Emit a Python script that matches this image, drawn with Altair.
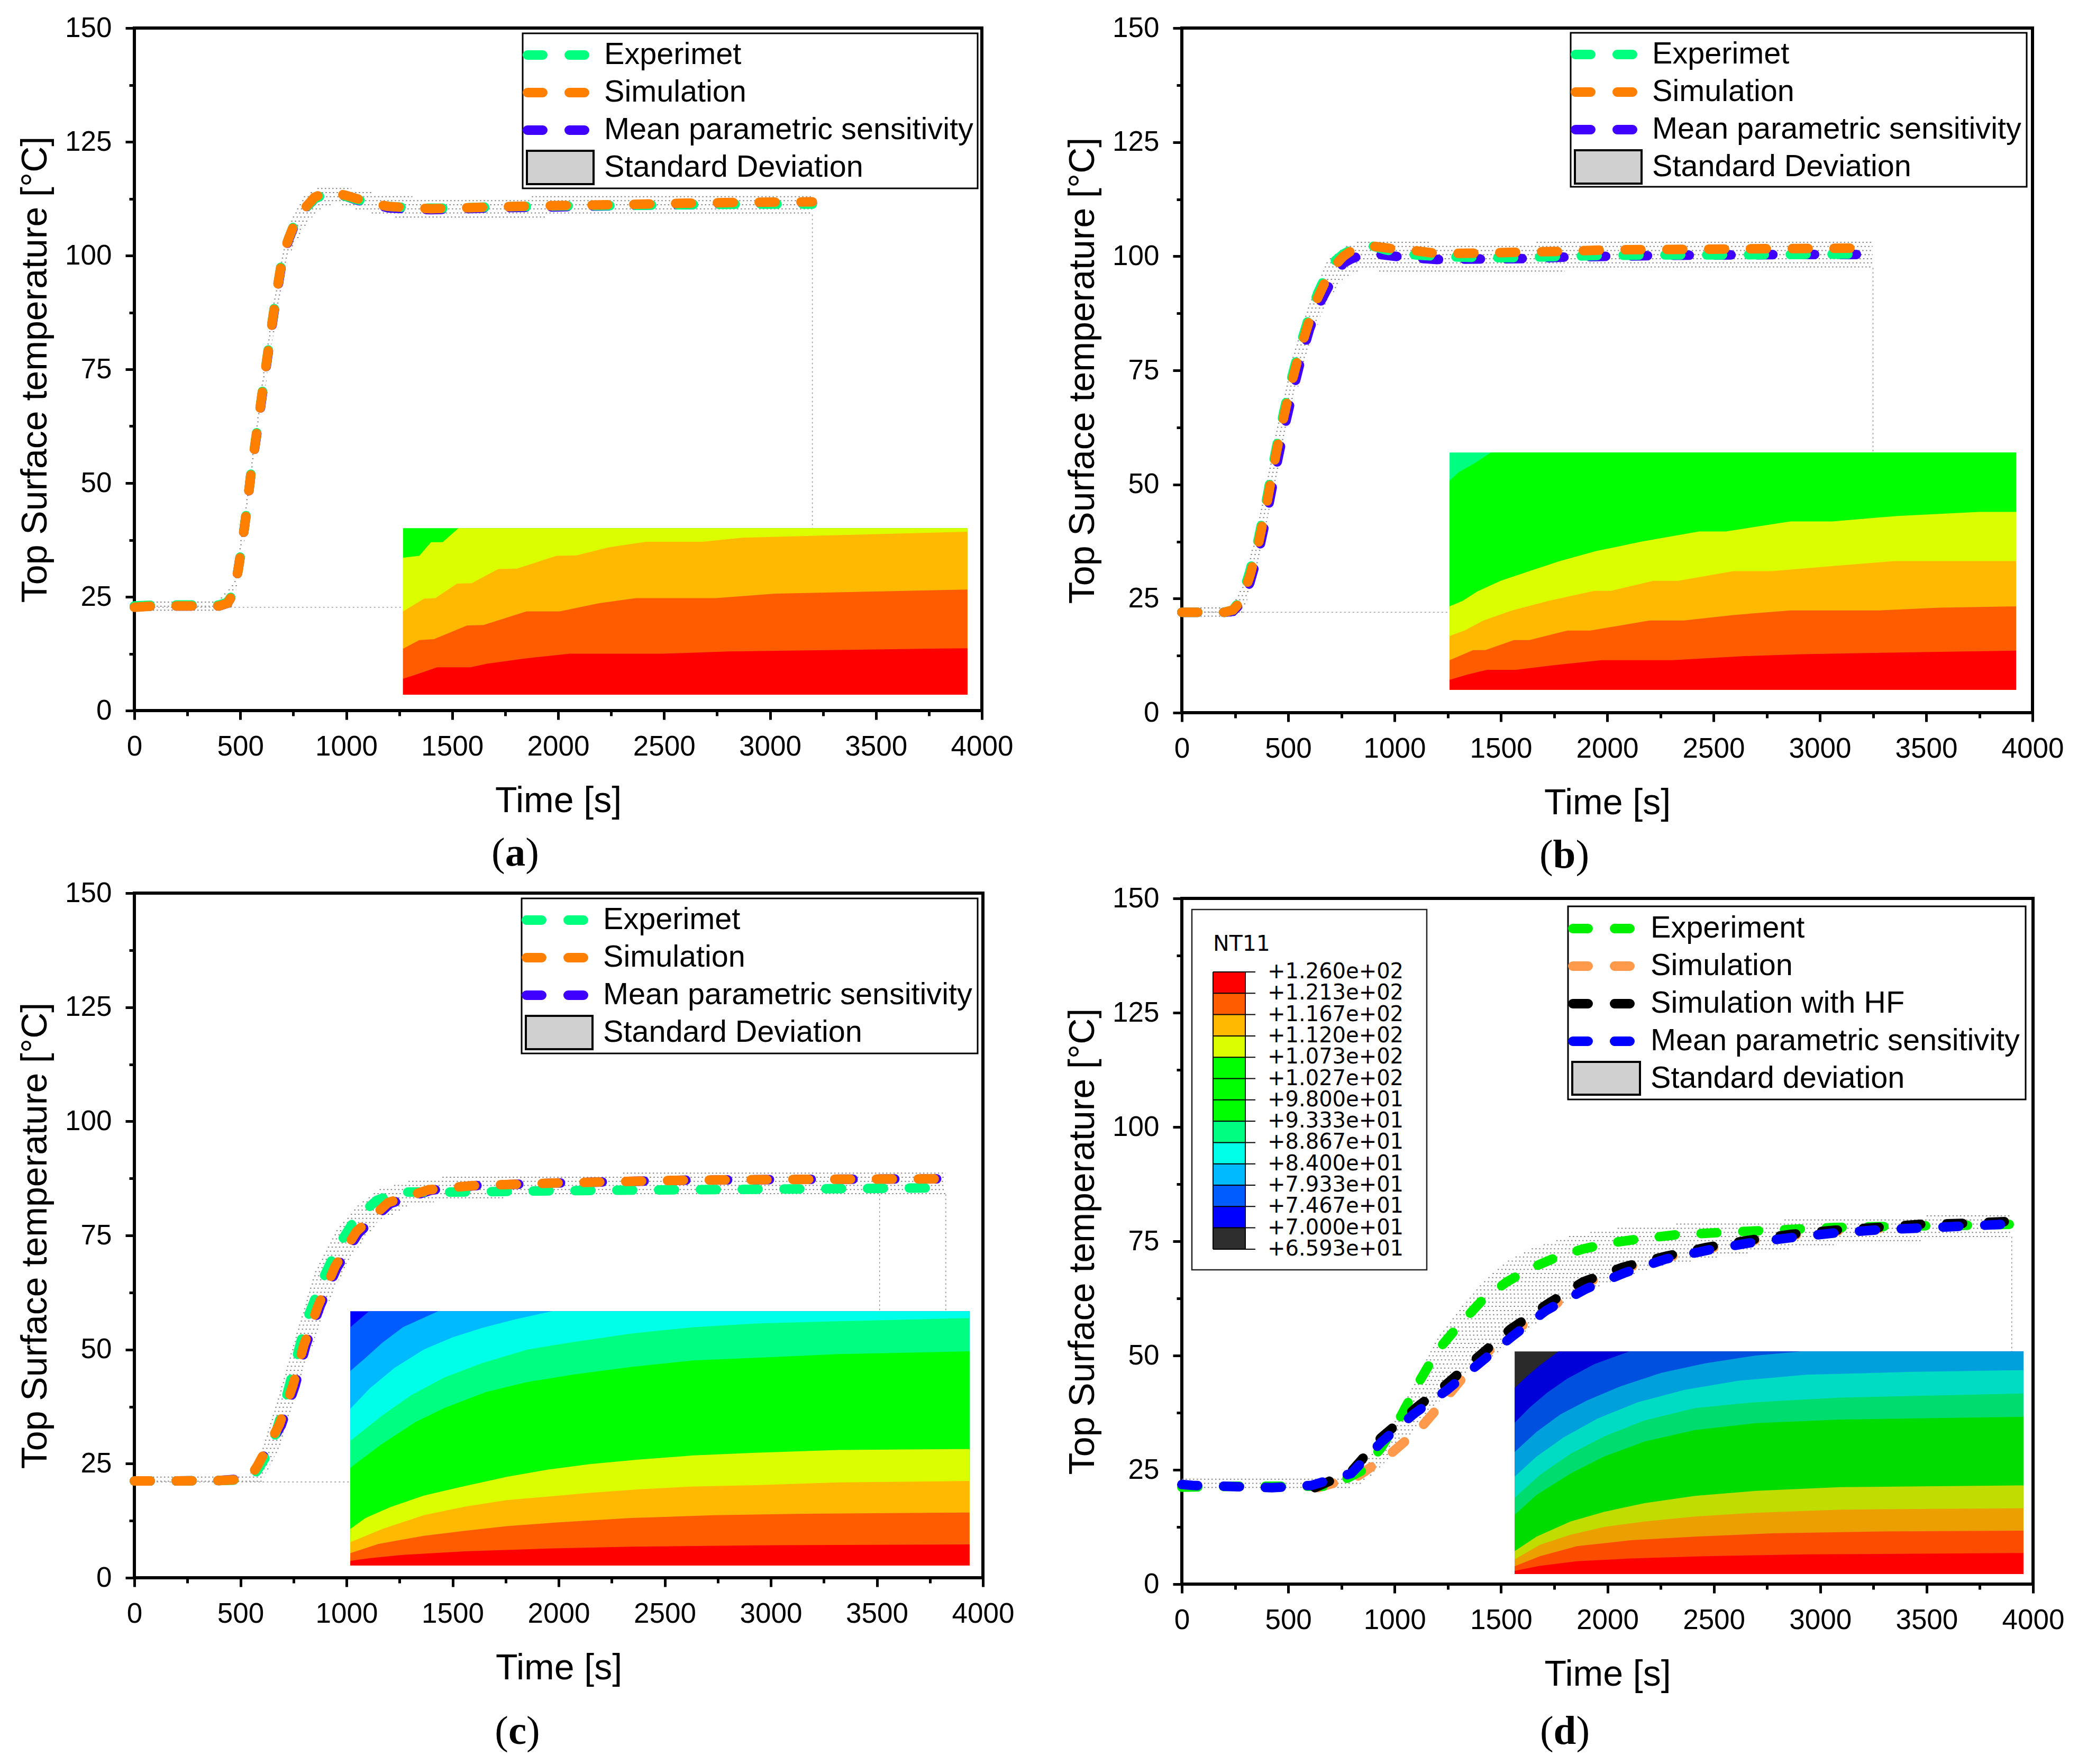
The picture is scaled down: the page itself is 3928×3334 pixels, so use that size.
import altair as alt
import numpy as np
import pandas as pd

FONT = "Liberation Sans"
XT = [i * 250 for i in range(17)]
YT = [i * 12.5 for i in range(13)]
GREEN, YELL, ORNG, DKOR, RED = "#00ff00", "#dcff00", "#ffb900", "#ff5c00", "#ff0000"

# ---------- panel a ----------
a_x = [0,100,200,300,400,440,470,490,510,530,550,580,610,640,670,700,730,760,800,850,900,950,1000,1050,1100,1150,1200,1300,1400,1500,1700,2000,2300,2600,2900,3200]
a_exp = [23,23.2,23.2,23.2,23.2,23.8,26,31,37,44,52,62,72,82,91.5,100,104,107.5,110,112.5,113.5,113.6,113,112.3,111.8,111.2,110.8,110.5,110.4,110.4,110.7,110.9,111,111.2,111.3,111.3]
a_sim = [22.7,23,23,23,23,23.6,26,31,37,44,52,62,72,82,91.5,100,104,107.5,110.2,112.8,113.8,113.7,113.2,112.5,111.8,111.2,110.8,110.5,110.3,110.4,110.7,111,111.2,111.5,111.7,111.8]
a_mean = [22.8,23,23,23,23,23.6,26,31,37,44,52,61.5,71.5,81.5,91,99.5,103.7,107.2,110,112.5,113.5,113.5,113,112.2,111.5,111,110.5,110.2,110.1,110.2,110.5,110.7,111,111.2,111.4,111.5]
a_bx = [0,400,470,530,600,670,730,800,870,950,1100,1250,1500,2000,2500,3200]
a_hi = [24.5,24.5,28,47,72,94,107,113,115,115.5,114,113,112.8,113,113.2,113.5]
a_lo = [22,22,23,40,65,86,100,106,110,111.5,109.5,108.3,108,108.5,108.8,109]
a_ins = dict(x0=1268, x1=3932, top=40.1, bot=3.5, colors=[GREEN, YELL, ORNG, DKOR, RED], bnd=[
    ([1268,1345,1400,1455,1530],[33.6,34,37,37,40.1]),
    ([1268,1367,1420,1523,1592,1717,1805,1992,2086,2242,2414,2680,2868,3932],[21.8,24.6,24.7,27.9,28,31.1,31.2,34,34.1,35.9,37.1,37.1,38,39.3]),
    ([1268,1345,1414,1570,1648,1851,2008,2195,2367,2743,3024,3932],[13.6,15.5,15.7,18.7,18.8,21.8,21.8,23.6,24.7,24.7,25.7,26.6]),
    ([1268,1335,1429,1586,1664,1836,2055,2493,2805,3932],[7,8,9.5,9.5,10.3,11.4,12.5,12.5,13,13.7]),
])

# ---------- panel b ----------
b_x = [0,100,200,240,280,320,360,400,440,480,520,560,600,640,680,720,760,800,850,900,950,1000,1100,1200,1400,1600,1800,2000,2300,2600,2900,3250]
b_exp = [22,22,22,22.5,25,31,38,47,57,66,74,81,87,92,96,99,100.5,101.5,102,102.2,101.5,101,100.3,100,99.7,99.7,100,100.2,100.3,100.3,100.4,100.5]
b_sim = [22,22,22,22.5,24.5,30,37,46,56,65,73,80,86,91,95,98,100,101.3,102,102.2,101.9,101.6,101.2,100.6,100.7,100.9,101.1,101.4,101.5,101.6,101.7,101.8]
b_mean = [22,22,22,22.2,24,28.5,35,43.5,53,62,70,77.5,84,89,92.5,96,98.5,99.5,100.3,100.5,100.3,100,99.6,99.3,99.4,99.5,99.8,100,100.2,100.3,100.4,100.4]
b_bx = [0,230,290,360,440,520,600,680,760,850,1000,1200,1600,2000,2600,3250]
b_hi = [23.2,23.2,28,42,61,78,90,99,102,103.5,103.3,103,103,103.3,103.5,103.5]
b_lo = [21,21,22,32,50,67,80,90,95,97,96.5,96.3,96.5,97,97.3,97.5]
b_ins = dict(x0=1259, x1=3923, top=57, bot=5, colors=["#00ff81", GREEN, YELL, ORNG, DKOR, RED], bnd=[
    ([1259,1302,1382,1454],[50.8,52.7,54.8,57]),
    ([1259,1320,1391,1499,1634,1777,1948,2163,2432,2558,2862,3060,3365,3749,3923],[23.3,24.5,26.6,28.9,31,33.2,35.4,37.5,39.7,39.7,41.9,41.9,43.1,44,44]),
    ([1259,1329,1418,1553,1723,1939,2019,2217,2333,2593,2773,3078,3347,3923],[16.8,18,20.2,22.4,24.5,26.7,26.7,28.9,28.9,31,31,32.2,33.2,33.2]),
    ([1259,1370,1427,1562,1634,1813,1921,2199,2360,2593,2862,3275,3562,3923],[11.5,13.7,13.7,15.9,15.9,18,18,20.2,20.2,21.4,22.4,22.4,23,23.3]),
    ([1259,1338,1436,1571,1750,1974,2306,2647,2916,3365,3923],[7.2,8.3,9.4,9.4,10.4,11.5,11.5,12.4,12.8,13.2,13.6]),
])

# ---------- panel c ----------
c_x_exp = [0,200,400,540,580,645,709,811,888,964,1041,1143,1246,1514,2000,2538,3200,3741,3825]
c_exp = [21.2,21.2,21.3,21.5,23.5,28.4,38.3,56.3,65.4,72.9,78.6,82.7,84.5,84.5,84.8,85,85.2,85.4,85.4]
c_x_sim = [0,200,400,540,581,683,747,799,867,946,1046,1196,1387,1591,2000,2590,3200,3778,3825]
c_sim = [21.2,21.2,21.3,21.6,24.6,33.5,42.1,51,59.7,68.2,75.8,82.2,85,85.9,86.5,87.1,87.3,87.4,87.4]
c_x_mean = [0,200,400,540,590,693,757,809,877,956,1056,1206,1397,1601,2000,2600,3210,3790,3825]
c_mean = [21.2,21.2,21.3,21.8,25,33.5,42,51,59.7,68,75.5,82,84.9,85.9,86.5,87.1,87.3,87.4,87.4]
c_bx = [0,540,600,680,760,850,950,1050,1150,1300,1500,2000,2600,3200,3825]
c_hi = [22.5,22.5,28,40,53,67,76,81.5,85,87,88,88.5,88.8,89,89]
c_lo = [20.3,20.3,21,28,40,52,64,72,78,81.5,83,83.5,83.5,83.7,83.7]
c_ins = dict(x0=1018, x1=3937, top=58.4, bot=2.7,
    colors=["#0000ff","#005cff","#00baff","#00ffe8","#00ff81",GREEN,YELL,ORNG,DKOR,RED], bnd=[
    ([1018,1106],[54.9,58.4]),
    ([1018,1090,1169,1266,1432],[45.3,48.2,51.5,54.9,58.4]),
    ([1018,1110,1227,1364,1501,1638,1794,1970],[37,41.5,46,50,52.7,54.7,56.6,58.4]),
    ([1018,1169,1305,1462,1638,1853,2048,2342,2635,2928,3319,3937],[30,35.6,40,43.9,47,50,51.5,53.5,54.9,55.7,56.2,56.9]),
    ([1018,1169,1325,1462,1657,1853,2068,2342,2635,2928,3319,3937],[24.1,29.4,34.1,37.2,40.7,42.9,44.5,46.2,47.6,48.2,49,49.6]),
    ([1018,1090,1208,1364,1540,1755,1951,2146,2381,2635,2928,3319,3937],[10.7,13.1,15.5,18,19.9,22.1,23.7,24.9,25.9,26.8,27.4,28,28.2]),
    ([1018,1169,1364,1559,1755,1951,2146,2381,2635,2928,3319,3937],[7.8,10.7,13.7,15.6,17,17.8,18.6,19.4,20,20.3,20.9,21.2]),
    ([1018,1149,1364,1559,1755,1990,2342,2733,3124,3937],[5.4,7.4,9.2,10.3,11.3,12.1,13.1,13.7,14,14.3]),
    ([1018,1110,1266,1559,1951,2342,2928,3937],[3.7,4.3,5,5.8,6.4,6.8,7.1,7.3]),
])

# ---------- panel d ----------
d_x_exp = [0,267,703,858,936,1029,1113,1200,1300,1412,1527,1636,1760,1885,2009,2133,2320,2569,2818,3066,3377,3688,3890]
d_exp = [21.2,21.4,21.4,25.1,29.8,36.7,44.1,51,56.5,62.1,66.1,69,71.5,73.3,74.6,75.4,76.4,77,77.5,78,78.3,78.5,78.7]
d_x_sim = [640,827,983,1123,1247,1356,1511,1729,1885,2071,2273,2460,2662,2864,3066,3269,3471,3673,3875]
d_sim = [21.1,23.6,28.6,34.2,41,47.2,54,60.3,65.6,69,71.4,73.3,75,76.3,77.2,77.8,78.5,78.8,79.2]
d_x_hf = [625,796,936,1107,1238,1387,1543,1713,1885,2071,2273,2460,2662,2864,3066,3269,3471,3673,3875]
d_hf = [21.1,24.6,32,38.8,43.5,49.5,55.7,61.1,66.1,69.3,71.7,73.6,75.2,76.5,77.4,78,78.7,78.9,79.3]
d_x_mean = [0,50,423,610,796,936,1092,1247,1403,1558,1713,1900,2081,2273,2476,2662,2864,3066,3269,3471,3673,3859]
d_mean = [21.8,21.6,21.1,21.6,24.2,31,37.3,42.5,48.5,54.4,59.9,64.6,68.1,71.1,73.1,74.6,75.8,76.8,77.5,77.9,78.3,78.7]
d_bx = [0,750,850,988,1092,1194,1320,1423,1524,1653,1830,2008,2239,2520,2672,3054,3538,3895]
d_hi = [23,23,26,34.5,44,53.4,61,66.5,70.5,73.6,76.2,77.7,78.6,79.1,79.4,80,80.6,80.7]
d_lo = [20.3,20.3,22,28,33.5,39,46,48,52.1,56.6,62.4,66,69.5,71.5,72.5,74.2,75.3,75.8]
d_ins = dict(x0=1564, x1=3955, top=50.9, bot=2.2,
    colors=["#2a2a2a","#0000d8","#0050df","#00a0dc","#00dcc4","#00dc6e","#00dc00","#c0dc00","#eb9f00","#fb4c00",RED], bnd=[
    ([1564,1620,1683,1770],[42.9,45.4,47.9,50.9]),
    ([1564,1636,1715,1810,1937,2103],[35.3,38.7,41.8,44.9,48.1,50.9]),
    ([1564,1667,1778,1905,2063,2253,2459,2697,2911],[28.9,33.3,37.1,40.2,43.3,46.2,48.3,50,50.9]),
    ([1564,1667,1794,1953,2143,2364,2618,2935,3410,3955],[23.5,27.9,32.1,36.2,39.8,42.5,44.5,45.8,46.4,46.8]),
    ([1564,1683,1826,1984,2174,2412,2697,3093,3955],[18.9,23.9,28.5,32.3,35.8,38.5,39.8,40.8,41.7]),
    ([1564,1667,1826,1984,2174,2412,2697,3093,3955],[15.2,19.5,24.2,27.9,31.2,33.7,35.2,36,36.6]),
    ([1564,1667,1826,1984,2174,2412,2697,3093,3955],[7.2,10.4,13.7,15.8,17.7,19.3,20.4,21.2,21.6]),
    ([1564,1683,1826,1984,2174,2412,2697,3093,3955],[5.4,8.6,10.8,12.5,13.7,14.8,15.6,16.3,16.6]),
    ([1564,1683,1857,2111,2412,2776,3251,3955],[3.9,6.1,8.3,9.6,10.4,11.1,11.5,11.7]),
    ([1564,1683,1857,2111,2459,2935,3955],[2.9,4,5,5.6,6.1,6.5,6.8]),
])

NT_LABELS = ["+1.260e+02","+1.213e+02","+1.167e+02","+1.120e+02","+1.073e+02","+1.027e+02","+9.800e+01",
             "+9.333e+01","+8.867e+01","+8.400e+01","+7.933e+01","+7.467e+01","+7.000e+01","+6.593e+01"]
NT_COLORS = [RED,DKOR,ORNG,YELL,GREEN,GREEN,GREEN,"#00ff81","#00ffe8","#00baff","#005cff","#0000ff","#2e2e2e"]

LEG3 = [("Experimet","#00ff7f"),("Simulation","#ff7f00"),("Mean parametric sensitivity","#3f00ff")]
LEG4 = [("Experiment","#00f000"),("Simulation","#ff9a4d"),("Simulation with HF","#000000"),("Mean parametric sensitivity","#0000ff")]

ONE = pd.DataFrame({"k": [0]})


def base(df):
    return alt.Chart(df)


def vtext(s, x, y, size, align="left", font=FONT, weight="normal"):
    return base(ONE).mark_text(text=s, font=font, fontSize=size, align=align, baseline="middle",
                               fontWeight=weight, color="black").encode(x=alt.value(x), y=alt.value(y))


def vrect(x, x2, y, y2, fill, stroke=None, sw=0):
    kw = dict(fill=fill, strokeWidth=sw)
    if stroke:
        kw["stroke"] = stroke
    return base(ONE).mark_rect(**kw).encode(x=alt.value(x), x2=alt.value(x2), y=alt.value(y), y2=alt.value(y2))


def vrule(x, x2, y, y2, color, sw, dash=None):
    kw = dict(color=color, strokeWidth=sw)
    if dash:
        kw.update(strokeDash=dash, strokeCap="round")
    return base(ONE).mark_rule(**kw).encode(x=alt.value(x), x2=alt.value(x2), y=alt.value(y), y2=alt.value(y2))


def xenc():
    return alt.X("x:Q", scale=alt.Scale(domain=[0, 4000], nice=False), axis=alt.Axis(
        values=XT, title="Time [s]", titleFont=FONT, titleFontSize=68, titleFontWeight="normal", titleColor="black",
        titlePadding=42, labelFont=FONT, labelFontSize=53, labelColor="black", labelPadding=25, labelOverlap=False,
        labelFlush=False, labelExpr="datum.value % 500 === 0 ? datum.label : ''", format="d",
        domain=False, grid=False, tickColor="black", tickWidth=5,
        tickSize={"condition": {"test": "datum.value % 500 !== 0", "value": 10}, "value": 17}))


def yenc(field):
    return alt.Y(field, scale=alt.Scale(domain=[0, 150], nice=False), axis=alt.Axis(
        values=YT, title="Top Surface temperature [°C]", titleFont=FONT, titleFontSize=68, titleFontWeight="normal",
        titleColor="black", titlePadding=21, labelFont=FONT, labelFontSize=53, labelColor="black", labelPadding=26,
        labelOverlap=False, labelFlush=False, labelExpr="datum.value % 25 === 0 ? datum.label : ''", format="d",
        domain=False, grid=False, tickColor="black", tickWidth=5,
        tickSize={"condition": {"test": "datum.value % 25 !== 0", "value": 10}, "value": 17}))


def band(xs, lo, hi):
    # the reference shades the deviation band with a halftone: rows of fine dots between its two edges
    gx = np.arange(xs[0], xs[-1] + 1, 4.0)
    glo, ghi = np.interp(gx, xs, lo), np.interp(gx, xs, hi)
    rows = []
    for r in np.arange(0.45, 150, 0.9):
        inside = (glo <= r) & (r <= ghi)
        edges = np.flatnonzero(np.diff(np.concatenate(([0], inside.astype(int), [0]))))
        for s, e in zip(edges[::2], edges[1::2]):
            rows.append({"x": gx[s], "x2": gx[e - 1], "y": r})
    df = pd.DataFrame(rows)
    return [base(df).mark_rule(color="#858585", strokeWidth=2, strokeDash=[2.5, 4.5]).encode(xenc(), alt.X2("x2:Q"), yenc("y:Q"))]


def dropline(xs, ys):
    df = pd.DataFrame({"x": xs, "y": ys, "o": range(len(xs))})
    return base(df).mark_line(color="#9a9a9a", strokeWidth=1.6, strokeDash=[3, 5]).encode(x="x:Q", y="y:Q", order="o:Q")


def inset(spec):
    x0, x1, top, bot = spec["x0"], spec["x1"], spec["top"], spec["bot"]
    cols = spec["colors"]
    rows = [pd.DataFrame({"x": [x0, x1], "y": [top, top], "b": [bot, bot]})]
    for xs, ys in spec["bnd"]:
        xs2, ys2 = list(xs), list(ys)
        if xs2[-1] < x1:
            xs2.append(x1)
            ys2.append(top)
        rows.append(pd.DataFrame({"x": xs2, "y": ys2, "b": [bot] * len(xs2)}))
    return [base(df).mark_area(color=c, opacity=1).encode(x="x:Q", y="y:Q", y2="b:Q") for df, c in zip(rows, cols)]


def curve(xs, ys, color):
    df = pd.DataFrame({"x": xs, "y": ys})
    return base(df).mark_line(color=color, strokeWidth=18, strokeDash=[30, 49], strokeCap="round").encode(x="x:Q", y="y:Q")


def legend(entries, sd_label, box, rows, kx0, tx, gx, gy):
    out = [vrect(box[0], box[2], box[1], box[3], "white", "black", 3)]
    for (lab, col), ry in zip(entries, rows):
        out.append(vrule(kx0 + 9, kx0 + 118, ry, ry, col, 18, [29, 50]))
        out.append(vtext(lab, tx, ry, 57.6))
    out.append(vrect(gx[0], gx[1], gy[0], gy[1], "#d0d0d0", "black", 4))
    out.append(vtext(sd_label, tx, rows[len(entries)], 57.6))
    return out


def caption(letter, cx, y):
    sz = 77
    lw = (0.556 if letter in "bd" else 0.5 if letter == "a" else 0.444) * sz
    pw = 0.333 * sz
    x0 = cx - (2 * pw + lw) / 2
    f = "Liberation Serif"
    return [vtext("(", x0, y, sz, font=f), vtext(letter, x0 + pw, y, sz, font=f, weight="bold"), vtext(")", x0 + pw + lw, y, sz, font=f)]


def panel(W, H, ext, layers):
    bound = base(ONE).mark_rect(opacity=0, fill="white").encode(
        x=alt.value(-ext[0]), x2=alt.value(W + ext[1]), y=alt.value(-ext[2]), y2=alt.value(H + ext[3]))
    return alt.layer(*layers, bound).properties(width=W, height=H)


# panel a
Wa, Ha = 1602, 1290
pa = panel(Wa, Ha, (243, 70, 42, 308), band(a_bx, a_lo, a_hi) + [dropline([3200, 3200, 0], [109, 22.7, 22.7])] + inset(a_ins) + [
    curve(a_x, a_mean, LEG3[2][1]), curve(a_x, a_exp, LEG3[0][1]), curve(a_x, a_sim, LEG3[1][1])
] + legend(LEG3, "Standard Deviation", (734, 10, 1594, 303), [51, 122, 193, 264], 734, 888, (742, 868), (232, 295)) + caption("a", 720, Ha + 270))

# panel b
Wb, Hb = 1608, 1294
pb = panel(Wb, Hb, (241, 70, 34, 307), band(b_bx, b_lo, b_hi) + [dropline([3250, 3250, 0], [97.5, 22, 22])] + inset(b_ins) + [
    curve(b_x, b_mean, LEG3[2][1]), curve(b_x, b_exp, LEG3[0][1]), curve(b_x, b_sim, LEG3[1][1])
] + legend(LEG3, "Standard Deviation", (735, 9, 1597, 300), [50, 121, 192, 263], 735, 889, (743, 869), (231, 294)) + caption("b", 723, Hb + 270))

# panel c
Wc, Hc = 1604, 1294
pc = panel(Wc, Hc, (234, 72, 31, 340), band(c_bx, c_lo, c_hi) + [
    dropline([3513, 3513], [84, 21]), dropline([3825, 3825, 0], [84, 21, 21])] + inset(c_ins) + [
    curve(c_x_mean, c_mean, LEG3[2][1]), curve(c_x_exp, c_exp, LEG3[0][1]), curve(c_x_sim, c_sim, LEG3[1][1])
] + legend(LEG3, "Standard Deviation", (732, 10, 1594, 303), [51, 122, 193, 264], 732, 886, (740, 866), (232, 295)) + caption("c", 724, Hc + 291))

# panel d
Wd, Hd = 1609, 1296
nt = [vrect(19, 463, 21, 702, "white", "#222222", 2.5), vtext("NT11", 59, 87, 41, font="DejaVu Sans")]
for i, col in enumerate(NT_COLORS):
    nt.append(vrect(59, 120, 139 + i * 40.3, 139 + (i + 1) * 40.3, col))
for i, lab in enumerate(NT_LABELS):
    ty = 139 + i * 40.3
    nt.append(vrule(59, 139, ty, ty, "black", 2))
    nt.append(vtext(lab, 162, ty, 40, font="DejaVu Sans"))
nt.append(vrule(59, 59, 139, 663, "black", 2))
nt.append(vrule(120, 120, 139, 663, "black", 2))
pd_ = panel(Wd, Hd, (240, 70, 37, 340), band(d_bx, d_lo, d_hi) + [dropline([3900, 3900], [76, 21])] + inset(d_ins) + [
    curve(d_x_sim, d_sim, LEG4[1][1]), curve(d_x_exp, d_exp, LEG4[0][1]), curve(d_x_hf, d_hf, LEG4[2][1]), curve(d_x_mean, d_mean, LEG4[3][1])
] + nt + legend(LEG4, "Standard deviation", (730, 15, 1595, 380), [57, 128, 199, 270, 341], 730, 886, (738, 866), (309, 371)) + caption("d", 724, Hd + 279))

left = alt.vconcat(pa, pc, spacing=0)
right = alt.vconcat(pb, pd_, spacing=0)
chart = alt.hconcat(left, right, spacing=57).properties(padding=0, background="white").configure_view(
    stroke="black", strokeWidth=6)

chart.save("out.html", embed_options={"renderer": "svg", "actions": False})
